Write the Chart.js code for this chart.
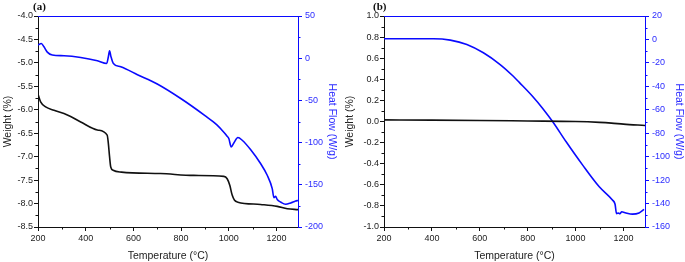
<!DOCTYPE html>
<html>
<head>
<meta charset="utf-8">
<script src="https://cdn.jsdelivr.net/npm/chart.js@4.4.1/dist/chart.umd.min.js"></script>
<style>
  html, body { margin: 0; padding: 0; background: #fff; }
  #wrap { position: relative; width: 685px; height: 262px; overflow: hidden; }
  canvas { position: absolute; top: 0; }
  #ca { left: 0; }
  #cb { left: 342px; }
  .tag { position: absolute; top: 0; line-height: 12px; font: bold 11px "Liberation Serif", "DejaVu Serif", serif; color: #111; }
</style>
</head>
<body>
<div id="wrap">
  <canvas id="ca" width="342" height="262"></canvas>
  <canvas id="cb" width="343" height="262"></canvas>
  <div class="tag" style="left:33px">(a)</div>
  <div class="tag" style="left:373px">(b)</div>
</div>
<script>
// panel (a): weight (black, left axis) and heat flow (blue, right axis)
const aWeightT = [200, 211, 232, 267, 323, 379, 449, 490, 495, 500, 505, 515, 550, 713, 853, 979, 993, 1004, 1014, 1024, 1038, 1133, 1203, 1245, 1290];
const aWeight = [-5.67, -5.83, -5.94, -6.01, -6.11, -6.26, -6.43, -6.54, -6.72, -7.0, -7.22, -7.29, -7.33, -7.36, -7.40, -7.42, -7.47, -7.61, -7.82, -7.93, -7.97, -8.02, -8.06, -8.11, -8.13];
const aHeatT = [200, 214, 225, 239, 260, 309, 379, 449, 488, 495, 500, 506, 516, 547, 617, 700, 800, 900, 950, 980, 990, 1000, 1010, 1021, 1038, 1056, 1091, 1133, 1161, 1182, 1189, 1196, 1203, 1217, 1238, 1259, 1280, 1290];
const aHeat = [15.5, 17.5, 13.5, 7.2, 3.7, 2.9, 0.9, -3, -6.2, 1.7, 8.8, 1.7, -6.2, -10.2, -19.5, -30.5, -48, -68, -79, -88, -91.5, -95.2, -105.1, -100.4, -94, -97.2, -108.2, -124.8, -138.7, -154.5, -165.2, -163.6, -167.5, -170.4, -173.1, -171.6, -169.2, -168.5];

// panel (b)
const bWeightT = [200, 400, 600, 800, 1000, 1100, 1150, 1200, 1290];
const bWeight = [0.015, 0.013, 0.01, 0.005, 0, -0.008, -0.015, -0.025, -0.038];
const bHeatT = [200, 300, 407, 477, 546, 615, 685, 740, 765, 821, 862, 904, 960, 1029, 1099, 1154, 1165, 1171, 1179, 1185, 1193, 1210, 1238, 1265, 1286];
const bHeat = [0.6, 0.6, 0.6, -0.6, -4.3, -11.4, -21.4, -31.4, -36.6, -48.6, -58.6, -70, -87.1, -107, -125.7, -137, -140.6, -148.6, -148, -148.6, -147, -148, -149, -148, -145];

const BLUE = "#0a0aff";
const BLUE_TXT = "#2b2bff";
const FONT = "'Liberation Sans', Arial, sans-serif";

function pts(xs, ys) {
  return xs.map((x, i) => ({ x, y: ys[i] }));
}

// blue top edge of the frame + short minor ticks between the labelled ones
const frame = {
  id: "frame",
  afterDraw(chart, args, o) {
    const { ctx, chartArea: ca } = chart;
    ctx.save();
    ctx.lineWidth = 1;
    ctx.strokeStyle = BLUE;
    ctx.beginPath();
    ctx.moveTo(ca.left, ca.top + 0.5);
    ctx.lineTo(ca.right, ca.top + 0.5);
    ctx.stroke();
    Object.entries(o.minor || {}).forEach(([id, step]) => {
      const s = chart.scales[id];
      ctx.strokeStyle = s.options.border.color;
      ctx.beginPath();
      for (let v = s.min + step / 2; v < s.max; v += step) {
        const p = Math.round(s.getPixelForValue(v)) + 0.5;
        if (id === "x") { ctx.moveTo(p, ca.bottom); ctx.lineTo(p, ca.bottom + 2.5); }
        else if (id === "y") { ctx.moveTo(ca.left - 2.5, p); ctx.lineTo(ca.left, p); }
        else { ctx.moveTo(ca.right, p); ctx.lineTo(ca.right + 2.5, p); }
      }
      ctx.stroke();
    });
    ctx.restore();
  },
};

function fixed(d) {
  return (v) => (Math.abs(v) < 1e-9 ? (0).toFixed(d) : v.toFixed(d));
}

function makePanel(id, cfg) {
  return new Chart(document.getElementById(id), {
    type: "line",
    data: {
      datasets: [
        { data: pts(cfg.wT, cfg.w), yAxisID: "y", borderColor: "#111", borderWidth: 1.6 },
        { data: pts(cfg.hT, cfg.h), yAxisID: "y2", borderColor: BLUE, borderWidth: 1.6 },
      ],
    },
    options: {
      responsive: false,
      animation: false,
      devicePixelRatio: 1,
      parsing: false,
      layout: { padding: { top: 16, left: 0, right: 0, bottom: 0 } },
      elements: {
        point: { radius: 0 },
        line: { cubicInterpolationMode: "monotone", borderJoinStyle: "round", fill: false },
      },
      plugins: { legend: { display: false }, tooltip: { enabled: false }, frame: { minor: cfg.minor } },
      scales: {
        x: {
          type: "linear",
          min: 200,
          max: 1290,
          afterFit: (s) => { s.height = 35; },
          border: { display: true, color: "#111", width: 1 },
          grid: { drawOnChartArea: false, tickLength: 4, tickColor: "#111" },
          ticks: { stepSize: 200, includeBounds: false, autoSkip: false, maxRotation: 0, padding: 2, color: "#222", callback: (v) => String(v), font: { family: FONT, size: 9 } },
          title: { display: true, text: "Temperature (°C)", color: "#222", padding: { top: 0, bottom: 0 }, font: { family: FONT, size: 10.5 } },
        },
        y: {
          position: "left",
          min: cfg.yMin,
          max: cfg.yMax,
          afterFit: (s) => { s.width = cfg.yW; },
          border: { display: true, color: "#111", width: 1 },
          grid: { drawOnChartArea: false, tickLength: 4, tickColor: "#111" },
          ticks: { stepSize: cfg.yStep, padding: 1, color: "#222", callback: fixed(1), font: { family: FONT, size: 9 } },
          title: { display: true, text: "Weight (%)", color: "#222", padding: { top: 2, bottom: 0 }, font: { family: FONT, size: 10.5 } },
        },
        y2: {
          position: "right",
          min: cfg.hMin,
          max: cfg.hMax,
          afterFit: (s) => { s.width = cfg.hW; },
          border: { display: true, color: BLUE, width: 1 },
          grid: { drawOnChartArea: false, tickLength: 4, tickColor: BLUE },
          ticks: { stepSize: cfg.hStep, padding: 3, color: BLUE_TXT, callback: (v) => String(v), font: { family: FONT, size: 9 } },
          title: { display: true, text: "Heat Flow (W/g)", color: BLUE_TXT, padding: { top: cfg.hPad, bottom: 0 }, font: { family: FONT, size: 10.5 } },
        },
      },
    },
    plugins: [frame],
  });
}

makePanel("ca", {
  wT: aWeightT, w: aWeight, hT: aHeatT, h: aHeat,
  yMin: -8.5, yMax: -4, yStep: 0.5, yW: 38,
  hMin: -200, hMax: 50, hStep: 50, hW: 44, hPad: 4,
  minor: { x: 200, y: 0.5, y2: 50 },
});

makePanel("cb", {
  wT: bWeightT, w: bWeight, hT: bHeatT, h: bHeat,
  yMin: -1, yMax: 1, yStep: 0.2, yW: 42,
  hMin: -160, hMax: 20, hStep: 20, hW: 40, hPad: 0,
  minor: { x: 200, y: 0.2, y2: 20 },
});
</script>
</body>
</html>
